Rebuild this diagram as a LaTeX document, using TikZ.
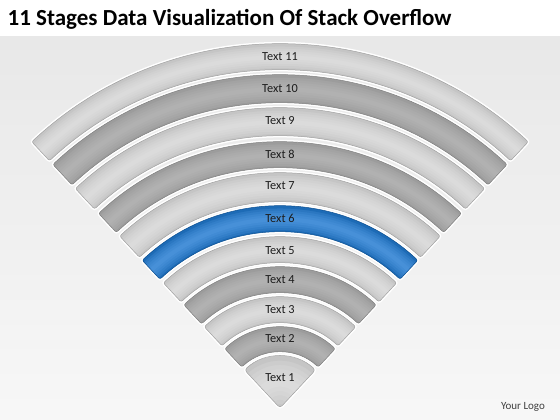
\documentclass[tikz,border=0pt]{standalone}
\usepackage{fontspec}
\setmainfont{Carlito}
\definecolor{bgtop}{HTML}{E8E8E8}
\definecolor{lightedge}{HTML}{BCBCBC}
\definecolor{lightmid}{HTML}{DDDDDD}
\definecolor{darkedge}{HTML}{949494}
\definecolor{darkmid}{HTML}{B2B2B2}
\definecolor{blueedge}{HTML}{0B5BA8}
\definecolor{bluemid}{HTML}{4A93DB}
\definecolor{labelcol}{HTML}{1C1C1C}
\newcommand{\fanband}[4]{%
  \begin{scope}
    \clip[rounded corners=2pt] (47:#1pt) arc (47:133:#1pt) -- (133:#2pt) arc (133:47:#2pt) -- cycle;
    \foreach \i in {0,...,11} {
      \pgfmathsetmacro\rr{#1+(\i+0.5)*(#2-#1)/12}
      \pgfmathsetmacro\lw{(#2-#1)/12+0.6}
      \pgfmathtruncatemacro\pc{100*sqrt(1-abs(2*(\i+0.5)/12-1))}
      \draw[line width=\lw pt, color=#4!\pc!#3] (45:\rr pt) arc (45:135:\rr pt);
    }
  \end{scope}
  \draw[rounded corners=2pt, line width=0.5pt, draw=#3!85!black] (47:#1pt) arc (47:133:#1pt) -- (133:#2pt) arc (133:47:#2pt) -- cycle;
}
\newcommand{\bandgap}[2]{%
  \draw[white, line width=3.5pt, rounded corners=2pt] (47:#1pt) arc (47:133:#1pt) -- (133:#2pt) arc (133:47:#2pt) -- cycle;
}
\begin{document}
\begin{tikzpicture}[x=1pt,y=1pt,
  lbl/.style={text=labelcol, font=\fontsize{12.3}{14}\selectfont, inner sep=0pt},
  titlestyle/.style={anchor=base west, inner sep=0pt, font=\bfseries\fontsize{23}{27}\selectfont},
  logostyle/.style={text=black!75, font=\fontsize{11}{13}\selectfont, inner sep=0pt}]
\useasboundingbox (0,0) rectangle (560,420);
\fill[white] (0,0) rectangle (560,420);
\shade[top color=bgtop, bottom color=white!97!black] (0,0) rectangle (560,383);
\node[titlestyle] (title) at (7.5,394.5) {11 Stages Data Visualization Of Stack Overflow};
\node[logostyle] (logo) at (523,13) {Your Logo};
\begin{scope}[shift={(280,12)}]
  % white gaps
  \bandgap{338}{364}
  \bandgap{305}{333}
  \bandgap{272}{300}
  \bandgap{240}{266}
  \bandgap{206}{235}
  \bandgap{176}{202}
  \bandgap{145}{171}
  \bandgap{115}{141}
  \bandgap{85}{111}
  \bandgap{56}{81}
  \draw[white, line width=3.5pt, rounded corners=3pt] (0,0) -- (47:52pt) arc (47:133:52pt) -- cycle;
  % bands
  \fanband{338}{364}{lightedge}{lightmid}
  \fanband{305}{333}{darkedge}{darkmid}
  \fanband{272}{300}{lightedge}{lightmid}
  \fanband{240}{266}{darkedge}{darkmid}
  \fanband{206}{235}{lightedge}{lightmid}
  \fanband{176}{202}{blueedge}{bluemid}
  \fanband{145}{171}{lightedge}{lightmid}
  \fanband{115}{141}{darkedge}{darkmid}
  \fanband{85}{111}{lightedge}{lightmid}
  \fanband{56}{81}{darkedge}{darkmid}
  % sector 1
  \begin{scope}
    \clip[rounded corners=3pt] (0,0) -- (47:52pt) arc (47:133:52pt) -- cycle;
    \foreach \i in {0,...,11} {
      \pgfmathsetmacro\rr{(\i+0.5)*52/12}
      \pgfmathtruncatemacro\pc{100*sqrt(1-abs(2*(\i+0.5)/12-1))}
      \draw[line width=4.9pt, color=lightmid!\pc!lightedge] (45:\rr pt) arc (45:135:\rr pt);
    }
  \end{scope}
  \draw[rounded corners=3pt, line width=0.5pt, draw=lightedge!85!black] (0,0) -- (47:52pt) arc (47:133:52pt) -- cycle;
  % labels
  \node[lbl] (t1) at (0,30) {Text 1};
  \node[lbl] (t2) at (0,69) {Text 2};
  \node[lbl] (t3) at (0,98) {Text 3};
  \node[lbl] (t4) at (0,128) {Text 4};
  \node[lbl] (t5) at (0,157) {Text 5};
  \node[lbl] (t6) at (0,190) {Text 6};
  \node[lbl] (t7) at (0,222) {Text 7};
  \node[lbl] (t8) at (0,254) {Text 8};
  \node[lbl] (t9) at (0,287) {Text 9};
  \node[lbl] (t10) at (0,319) {Text 10};
  \node[lbl] (t11) at (0,351) {Text 11};
\end{scope}
\end{tikzpicture}
\end{document}
